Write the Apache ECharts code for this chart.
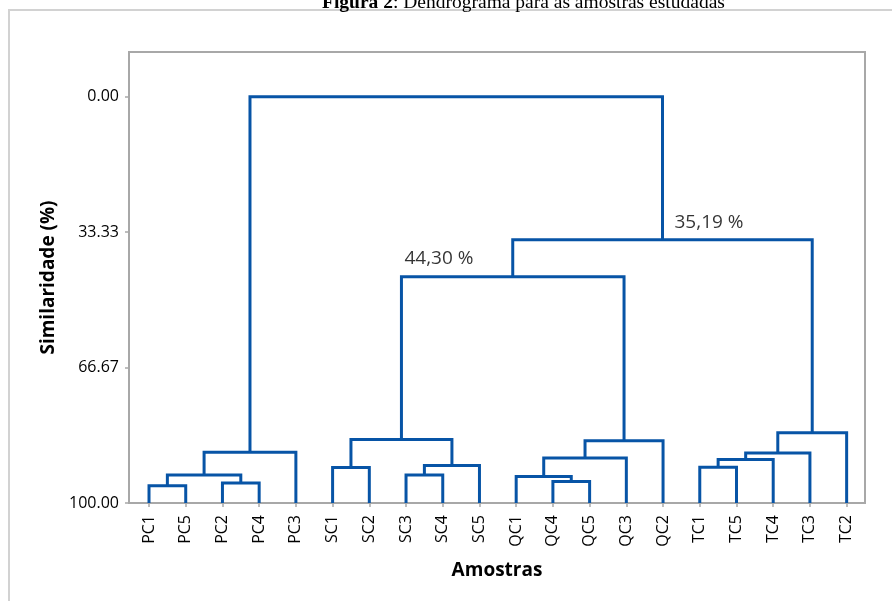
<!DOCTYPE html>
<html>
<head>
<meta charset="utf-8">
<script src="https://cdn.jsdelivr.net/npm/echarts@6/dist/echarts.min.js"></script>
<style>
html,body{margin:0;padding:0;background:#fff;}
#chart{width:892px;height:601px;}
</style>
</head>
<body>
<div id="chart"></div>
<script>
// Leaf order along the x axis
const leaves = ['PC1','PC5','PC2','PC4','PC3','SC1','SC2','SC3','SC4','SC5','QC1','QC4','QC5','QC3','QC2','TC1','TC5','TC4','TC3','TC2'];
// Merge k creates node 20+k from nodes mergeA[k] and mergeB[k] (0..19 are leaves)
const mergeA = [0, 2, 20, 22, 5, 7, 25, 24, 11, 10, 29, 30, 27, 15, 33, 34, 35, 32, 23];
const mergeB = [1, 3, 21, 4, 6, 8, 9, 26, 12, 28, 13, 14, 31, 16, 17, 18, 19, 36, 37];
// Similarity level (%) of each merge
const mergeLevel = [95.75, 95.1, 93.1, 87.5, 91.25, 93.1, 90.8, 84.4, 94.7, 93.5, 88.9, 84.7, 44.30, 91.2, 89.3, 87.7, 82.7, 35.19, 0.00];
// Y tick labels
const yTicks = [0, 33.33, 66.67, 100];
// Merges whose level is written on the chart
const annotatedMerges = [12, 17];

const nLeaves = leaves.length;
const pos = [], lvl = [];
for (let i = 0; i < nLeaves; i++) { pos.push(i); lvl.push(100); }
const series = [];
const BLUE = '#0754a6';
for (let k = 0; k < mergeA.length; k++) {
  const a = mergeA[k], b = mergeB[k], h = mergeLevel[k];
  const xa = pos[a], xb = pos[b];
  series.push({
    type: 'line', silent: true, symbol: 'none', animation: false,
    lineStyle: { color: BLUE, width: 3, join: 'miter' },
    data: [[xa, lvl[a]], [xa, h], [xb, h], [xb, lvl[b]]]
  });
  pos.push((xa + xb) / 2);
  lvl.push(h);
}
const annotData = annotatedMerges.map(function (k) {
  const node = nLeaves + k;
  const isTop = k === 17;
  const ax = isTop ? pos[node] : pos[mergeA[k]];
  return {
    value: [ax, mergeLevel[k]],
    label: {
      show: true,
      formatter: mergeLevel[k].toFixed(2).replace('.', ',') + ' %',
      position: isTop ? [12, -17] : [3, -18],
      align: 'left', verticalAlign: 'middle',
      fontFamily: 'Open Sans', fontSize: 19, color: '#000'
    }
  };
});
series.push({
  type: 'scatter', silent: true, animation: false, symbolSize: 0,
  data: annotData
});

const FONT = 'Open Sans';
const chart = echarts.init(document.getElementById('chart'), null, { renderer: 'canvas' });
chart.setOption({
  backgroundColor: '#fff',
  animation: false,
  title: {
    text: '{b|Figura 2}: Dendrograma para as amostras estudadas',
    left: 322, top: -7, padding: 0,
    textStyle: {
      fontFamily: 'Liberation Serif', fontSize: 19.5, fontWeight: 'normal', color: '#000',
      rich: { b: { fontFamily: 'Liberation Serif', fontSize: 19.5, fontWeight: 'bold', color: '#000' } }
    }
  },
  graphic: [{
    type: 'rect', silent: true,
    shape: { x: 9, y: 10, width: 1200, height: 1200 },
    style: { fill: 'none', stroke: '#d2d2d2', lineWidth: 2 }
  }],
  grid: {
    left: 129, right: 27, top: 52, bottom: 98,
    show: true, borderColor: '#a8a8a8', borderWidth: 2, backgroundColor: 'transparent'
  },
  xAxis: {
    type: 'value', min: -0.545, max: 19.5,
    name: 'Amostras', nameLocation: 'middle', nameGap: 58,
    nameTextStyle: { fontFamily: FONT, fontSize: 19, fontWeight: 'bold', color: '#000' },
    splitLine: { show: false },
    axisLine: { show: true, onZero: false, lineStyle: { color: '#a8a8a8', width: 2 } },
    axisTick: { show: true, length: 4, lineStyle: { color: '#a8a8a8', width: 1.5 }, customValues: leaves.map(function (_, i) { return i; }) },
    axisLabel: {
      customValues: leaves.map(function (_, i) { return i; }),
      formatter: function (v) { return leaves[Math.round(v)]; },
      rotate: 90, margin: 12,
      fontFamily: FONT, fontSize: 16, color: '#000'
    }
  },
  yAxis: {
    type: 'value', inverse: true, min: -11, max: 100,
    name: 'Similaridade (%)', nameLocation: 'middle', nameGap: 70, nameRotate: 90,
    nameTextStyle: { fontFamily: FONT, fontSize: 19, fontWeight: 'bold', color: '#000' },
    splitLine: { show: false },
    axisLine: { show: true, onZero: false, lineStyle: { color: '#a8a8a8', width: 2 } },
    axisTick: { show: true, length: 4, lineStyle: { color: '#a8a8a8', width: 1.5 }, customValues: yTicks },
    axisLabel: {
      customValues: yTicks,
      formatter: function (v) { return Number(v).toFixed(2); },
      margin: 10,
      fontFamily: FONT, fontSize: 16, color: '#000'
    }
  },
  series: series
});
</script>
</body>
</html>
